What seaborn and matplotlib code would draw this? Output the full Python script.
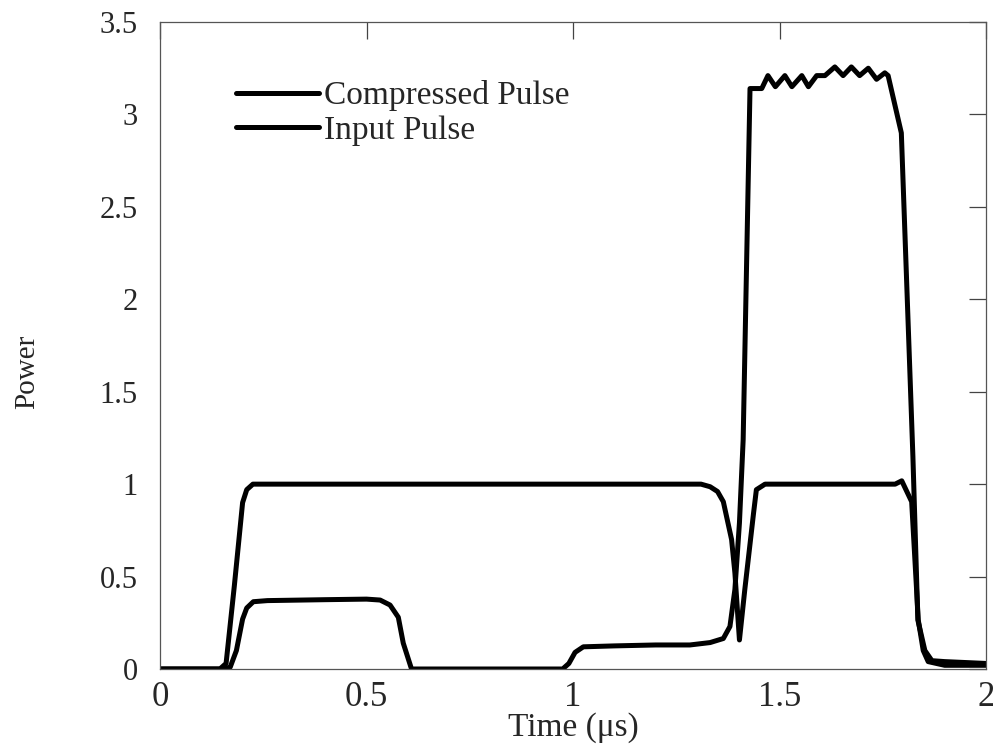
import numpy as np
import pandas as pd
import matplotlib
matplotlib.use("Agg")
import matplotlib.pyplot as plt
import seaborn as sns

# ---- data ----
t_comp = [0.0, 0.15, 0.17, 0.185, 0.20, 0.21, 0.226, 0.26, 0.40, 0.50, 0.533,
          0.557, 0.577, 0.589, 0.609, 0.80, 0.975, 0.99, 1.005, 1.025, 1.10,
          1.20, 1.283, 1.332, 1.364, 1.38, 1.392, 1.403, 1.412, 1.4286,
          1.457, 1.472, 1.49, 1.513, 1.53, 1.554, 1.57, 1.59, 1.61, 1.634,
          1.654, 1.674, 1.694, 1.715, 1.735, 1.755, 1.763, 1.795, 1.823,
          1.835, 1.852, 1.869, 1.90, 1.95, 2.0]
p_comp = [0.0, 0.0, 0.01, 0.10, 0.27, 0.33, 0.364, 0.37, 0.375, 0.378, 0.373,
          0.346, 0.28, 0.14, 0.0, 0.0, 0.0, 0.03, 0.09, 0.12, 0.125,
          0.13, 0.13, 0.143, 0.165, 0.23, 0.43, 0.79, 1.24, 3.14,
          3.14, 3.21, 3.15, 3.21, 3.15, 3.21, 3.15, 3.21, 3.21, 3.257,
          3.21, 3.257, 3.21, 3.25, 3.19, 3.225, 3.21, 2.90, 1.15,
          0.265, 0.10, 0.045, 0.04, 0.035, 0.03]

t_input = [0.0, 0.145, 0.16, 0.18, 0.20, 0.21, 0.225, 0.50, 1.00, 1.31,
           1.332, 1.35, 1.364, 1.384, 1.392, 1.403, 1.416, 1.437, 1.444,
           1.465, 1.60, 1.78, 1.796, 1.82, 1.836, 1.848, 1.86, 1.90, 2.0]
p_input = [0.0, 0.0, 0.03, 0.45, 0.90, 0.97, 1.0, 1.0, 1.0, 1.0,
           0.986, 0.96, 0.905, 0.70, 0.52, 0.157, 0.43, 0.84, 0.97,
           1.0, 1.0, 1.0, 1.018, 0.905, 0.265, 0.10, 0.04, 0.02, 0.02]

series_names = ["Compressed Pulse", "Input Pulse"]
x_ticks = [0, 0.5, 1, 1.5, 2]
x_tick_labels = ["0", "0.5", "1", "1.5", "2"]
y_ticks = [0, 0.5, 1, 1.5, 2, 2.5, 3, 3.5]
y_tick_labels = ["0", "0.5", "1", "1.5", "2", "2.5", "3", "3.5"]

df = pd.concat([
    pd.DataFrame({"Time": t_comp, "Power": p_comp, "Series": series_names[0]}),
    pd.DataFrame({"Time": t_input, "Power": p_input, "Series": series_names[1]}),
], ignore_index=True)

sns.set_style("white")
plt.rcParams["font.family"] = ["Liberation Serif", "DejaVu Serif"]

fig = plt.figure(figsize=(9.93, 7.51), dpi=100)
ax = fig.add_axes([160 / 993, 1 - 669 / 751, 826 / 993, 647 / 751])

sns.lineplot(data=df, x="Time", y="Power", hue="Series", sort=False,
             palette=["black", "black"], linewidth=3.6, ax=ax, legend=True,
             estimator=None)

ax.set_xlim(0, 2)
ax.set_ylim(0, 3.5)
ax.set_xticks(x_ticks)
ax.set_xticklabels(x_tick_labels, fontsize=25)
ax.set_yticks(y_ticks)
ax.set_yticklabels(y_tick_labels, fontsize=22)
ax.tick_params(axis="both", direction="in", length=12, width=0.9,
               color="#444444", top=True, right=True)
ax.tick_params(axis="x", pad=9)
ax.tick_params(axis="y", pad=16)
for s in ax.spines.values():
    s.set_visible(True)
    s.set_color("#555555")
    s.set_linewidth(0.9)

ax.set_xlabel("Time (μs)", fontsize=24, labelpad=-2)
ax.set_ylabel("Power", fontsize=21)
ax.yaxis.set_label_coords(-0.145, 0.46)

leg = ax.legend(loc="upper left", bbox_to_anchor=(0.092, 0.91), frameon=False,
                fontsize=24, handlelength=2.5, handletextpad=0.15,
                labelspacing=0.12, borderpad=0, borderaxespad=0)
for line in leg.get_lines():
    line.set_linewidth(3.6)

fig.savefig("out.png", dpi=100)
